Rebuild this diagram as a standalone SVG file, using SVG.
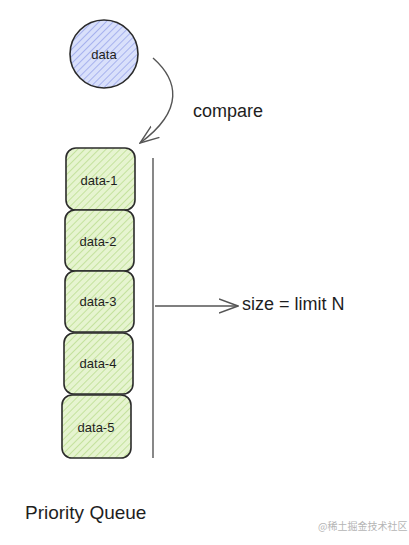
<svg xmlns="http://www.w3.org/2000/svg" width="409" height="545" viewBox="0 0 409 545">
<defs>
<pattern id="hBlue" patternUnits="userSpaceOnUse" width="5" height="5" patternTransform="rotate(45)">
<rect width="5" height="5" fill="#d9e0fb"/>
<line x1="0" y1="0" x2="0" y2="5" stroke="#8594e6" stroke-width="1.2"/>
</pattern>
<pattern id="hGreen" patternUnits="userSpaceOnUse" width="5" height="5" patternTransform="rotate(45)">
<rect width="5" height="5" fill="#e6f4d0"/>
<line x1="0" y1="0" x2="0" y2="5" stroke="#b2d981" stroke-width="1.3"/>
</pattern>
<marker id="ah2" viewBox="0 0 20 20" refX="19" refY="10" markerWidth="20" markerHeight="20" markerUnits="userSpaceOnUse" orient="auto">
<path d="M0,3 L19,10 L0,17" fill="none" stroke="#555" stroke-width="1.4"/>
</marker>
</defs>
<style>
.node{stroke:#2b2b2b;stroke-width:1.6;}
.lbl{font-family:"Liberation Sans",sans-serif;font-size:13px;fill:#1e1e1e;text-anchor:middle;dominant-baseline:central;}
.conn{fill:none;stroke:#555;stroke-width:1.4;}
.txt{font-family:"Liberation Sans",sans-serif;fill:#1e1e1e;}
</style>
<rect width="409" height="545" fill="#ffffff"/>
<g id="data">
<circle class="node" cx="104" cy="54" r="34" fill="url(#hBlue)"/>
<text class="lbl" x="104" y="54">data</text>
</g>
<g id="data-1">
<rect class="node" x="66" y="148" width="69" height="62" rx="10" fill="url(#hGreen)"/>
<text class="lbl" x="99" y="180">data-1</text>
</g>
<g id="data-2">
<rect class="node" x="65" y="210" width="69" height="61" rx="10" fill="url(#hGreen)"/>
<text class="lbl" x="98" y="241">data-2</text>
</g>
<g id="data-3">
<rect class="node" x="65" y="271" width="69" height="61" rx="10" fill="url(#hGreen)"/>
<text class="lbl" x="98" y="301">data-3</text>
</g>
<g id="data-4">
<rect class="node" x="64" y="333" width="69" height="61" rx="10" fill="url(#hGreen)"/>
<text class="lbl" x="98" y="363">data-4</text>
</g>
<g id="data-5">
<rect class="node" x="62" y="395" width="69" height="63" rx="10" fill="url(#hGreen)"/>
<text class="lbl" x="96" y="427">data-5</text>
</g>
<g id="connectors">
<path class="conn" d="M153,58 C178,80 185,110 140,143" marker-end="url(#ah2)"/>
<line class="conn" x1="153" y1="158" x2="153" y2="458"/>
<line class="conn" x1="155" y1="306" x2="238" y2="306" marker-end="url(#ah2)"/>
</g>
<text class="txt" x="193" y="117" font-size="18">compare</text>
<text class="txt" x="242" y="310" font-size="18">size = limit N</text>
<text class="txt" x="25" y="519" font-size="19">Priority Queue</text>
<text x="318" y="530" font-family="'Noto Sans CJK SC',sans-serif" font-size="10" fill="#b5b5b5">@稀土掘金技术社区</text>
</svg>
